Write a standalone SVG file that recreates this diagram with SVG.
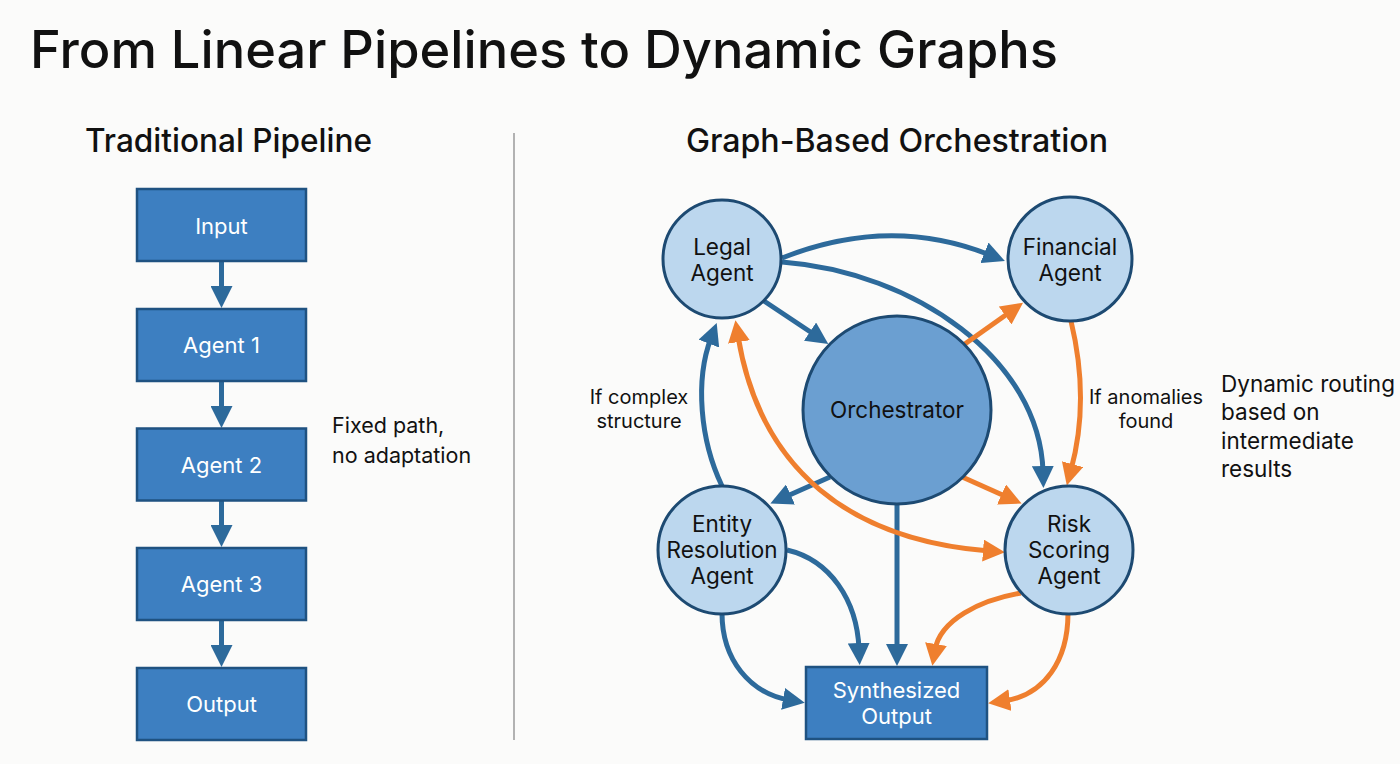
<svg xmlns="http://www.w3.org/2000/svg" width="1400" height="764" viewBox="0 0 1400 764">
  <style>
    text { font-family: Inter, "Liberation Sans", sans-serif; fill: #111; }
    .title { font-size: 52px; font-weight: 500; }
    .sub { font-size: 32px; font-weight: 500; }
    .box { fill: #3d7fc1; stroke: #1f5281; stroke-width: 2.5; }
    .btxt { fill: #ffffff; font-size: 22px; text-anchor: middle; }
    .node { fill: #bcd7ee; stroke: #1d4a72; stroke-width: 3; }
    .orch { fill: #6b9fd1; stroke: #1d4a72; stroke-width: 3; }
    .ntxt { font-size: 22.5px; text-anchor: middle; }
    .lbl { font-size: 20px; }
    .note { font-size: 21.5px; }
    .side { font-size: 22.5px; }
    .blue { fill: none; stroke: #2d6a9b; stroke-width: 5; }
    .orange { fill: none; stroke: #ef7f2e; stroke-width: 5; }
  </style>
  <defs>
    <marker id="ab" viewBox="0 0 22 22" refX="6" refY="11" markerWidth="22" markerHeight="22" markerUnits="userSpaceOnUse" orient="auto-start-reverse">
      <path d="M0,0 L22,11 L0,22 z" fill="#2d6a9b"/>
    </marker>
    <marker id="ao" viewBox="0 0 22 22" refX="6" refY="11" markerWidth="22" markerHeight="22" markerUnits="userSpaceOnUse" orient="auto-start-reverse">
      <path d="M0,0 L22,11 L0,22 z" fill="#ef7f2e"/>
    </marker>
  </defs>
  <rect width="1400" height="764" fill="#fbfbfa"/>

  <text class="title" x="30" y="68" textLength="1028" lengthAdjust="spacingAndGlyphs">From Linear Pipelines to Dynamic Graphs</text>
  <text class="sub" x="85" y="152" textLength="287" lengthAdjust="spacingAndGlyphs">Traditional Pipeline</text>
  <text class="sub" x="686" y="152" textLength="422" lengthAdjust="spacingAndGlyphs">Graph-Based Orchestration</text>
  <line x1="514" y1="133" x2="514" y2="740" stroke="#9a9a9a" stroke-width="1.5"/>

  <g id="connectors">
    <line class="blue" x1="221.5" y1="261" x2="221.5" y2="292" marker-end="url(#ab)"/>
    <line class="blue" x1="221.5" y1="381" x2="221.5" y2="412" marker-end="url(#ab)"/>
    <line class="blue" x1="221.5" y1="500" x2="221.5" y2="531" marker-end="url(#ab)"/>
    <line class="blue" x1="221.5" y1="620" x2="221.5" y2="651" marker-end="url(#ab)"/>

    <path class="blue" d="M782,258 Q890,215 990,255" marker-end="url(#ab)"/>
    <path class="blue" d="M782,262 C915,272 1040,360 1043,472" marker-end="url(#ab)"/>
    <path class="blue" d="M764,301 L815,335" marker-end="url(#ab)"/>
    <path class="orange" d="M962,346 L1010,312" marker-end="url(#ao)"/>
    <path class="orange" d="M1071,321 Q1090,400 1071,470" marker-end="url(#ao)"/>
    <path class="orange" d="M960,476 L1007,497" marker-end="url(#ao)"/>
    <path class="blue" d="M830,477 L785,497" marker-end="url(#ab)"/>
    <path class="blue" d="M897,504 L897,650" marker-end="url(#ab)"/>
    <path class="blue" d="M722,486 C700,440 695,380 711,338" marker-end="url(#ab)"/>
    <path class="orange" d="M738,336 C760,470 850,540 989,551" marker-start="url(#ao)" marker-end="url(#ao)"/>
    <path class="blue" d="M787,550 C830,560 857,600 859,649" marker-end="url(#ab)"/>
    <path class="blue" d="M722,613 C722,660 750,693 789,700" marker-end="url(#ab)"/>
    <path class="orange" d="M1021,593 C980,600 940,620 935,650" marker-end="url(#ao)"/>
    <path class="orange" d="M1068,613 C1068,660 1045,695 1004,701" marker-end="url(#ao)"/>
  </g>

  <g id="input"><rect class="box" x="137" y="189" width="169" height="72"/><text class="btxt" x="221.5" y="233.5">Input</text></g>
  <g id="agent1"><rect class="box" x="137" y="309" width="169" height="72"/><text class="btxt" x="221.5" y="353">Agent 1</text></g>
  <g id="agent2"><rect class="box" x="137" y="428.5" width="169" height="72"/><text class="btxt" x="221.5" y="473">Agent 2</text></g>
  <g id="agent3"><rect class="box" x="137" y="548" width="169" height="72"/><text class="btxt" x="221.5" y="592">Agent 3</text></g>
  <g id="output"><rect class="box" x="137" y="668" width="169" height="72"/><text class="btxt" x="221.5" y="712">Output</text></g>

  <g id="fixed-note"><text class="note" x="332" y="433">Fixed path,</text><text class="note" x="332" y="463">no adaptation</text></g>

  <g id="legal"><circle class="node" cx="722" cy="259" r="59"/><text class="ntxt" x="722" y="255">Legal</text><text class="ntxt" x="722" y="281">Agent</text></g>
  <g id="financial"><circle class="node" cx="1070" cy="259" r="62"/><text class="ntxt" x="1070" y="255">Financial</text><text class="ntxt" x="1070" y="281">Agent</text></g>
  <g id="orchestrator"><circle class="orch" cx="897" cy="410" r="94"/><text class="ntxt" x="897" y="418">Orchestrator</text></g>
  <g id="entity"><circle class="node" cx="722" cy="550" r="64"/><text class="ntxt" x="722" y="532">Entity</text><text class="ntxt" x="722" y="558">Resolution</text><text class="ntxt" x="722" y="584">Agent</text></g>
  <g id="risk"><circle class="node" cx="1069" cy="550" r="64"/><text class="ntxt" x="1069" y="532">Risk</text><text class="ntxt" x="1069" y="558">Scoring</text><text class="ntxt" x="1069" y="584">Agent</text></g>
  <g id="synth"><rect class="box" x="806" y="667" width="181" height="72"/><text class="btxt" x="896.5" y="698">Synthesized</text><text class="btxt" x="896.5" y="724">Output</text></g>

  <g id="labels">
    <text class="lbl" x="639" y="404" text-anchor="middle">If complex</text>
    <text class="lbl" x="639" y="428" text-anchor="middle">structure</text>
    <text class="lbl" x="1146" y="404" text-anchor="middle">If anomalies</text>
    <text class="lbl" x="1146" y="428" text-anchor="middle">found</text>
    <text class="side" x="1221" y="392">Dynamic routing</text>
    <text class="side" x="1221" y="420">based on</text>
    <text class="side" x="1221" y="449">intermediate</text>
    <text class="side" x="1221" y="477">results</text>
  </g>
</svg>
